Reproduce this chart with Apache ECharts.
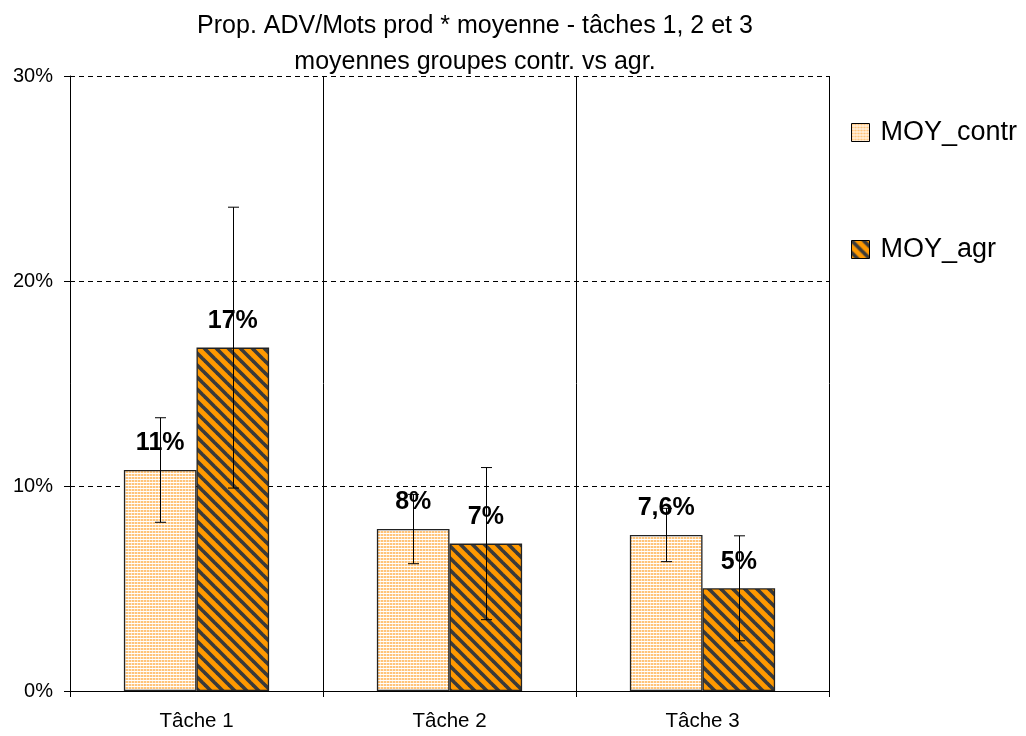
<!DOCTYPE html>
<html><head><meta charset="utf-8">
<script src="https://cdn.jsdelivr.net/npm/echarts@6/dist/echarts.min.js"></script>
<style>html,body{margin:0;padding:0;background:#fff}#c{width:1026px;height:736px}</style>
</head><body><div id="c"></div>
<script>
const categories = ['Tâche 1', 'Tâche 2', 'Tâche 3'];
const seriesNames = ['MOY_contr', 'MOY_agr'];
const contrValues = [10.78, 7.90, 7.61];
const agrValues = [16.75, 7.19, 5.01];
const contrErr = [2.55, 1.69, 1.30];
const agrErr = [6.85, 3.71, 2.56];
const contrLabels = ['11%', '8%', '7,6%'];
const agrLabels = ['17%', '7%', '5%'];
const yTicks = [0, 10, 20, 30];

const FONT = '"Liberation Sans", Arial, sans-serif';
const GAP = 0.426;

function dotPattern() {
  const c = document.createElement('canvas'); c.width = 3; c.height = 3;
  const g = c.getContext('2d');
  g.fillStyle = '#fff'; g.fillRect(0, 0, 3, 3);
  g.fillStyle = '#ffc47a'; g.fillRect(0, 0, 2, 2);
  g.fillStyle = '#ffe7c8'; g.fillRect(2, 0, 1, 2);
  return c;
}
function stripePattern() {
  const s = 12;
  const c = document.createElement('canvas'); c.width = s; c.height = s;
  const g = c.getContext('2d');
  g.fillStyle = '#ff9900'; g.fillRect(0, 0, s, s);
  g.strokeStyle = '#3a3a3a'; g.lineWidth = 3.6;
  for (const o of [-s, 0, s]) {
    g.beginPath(); g.moveTo(o - 2, -2); g.lineTo(o + s + 2, s + 2); g.stroke();
  }
  return c;
}

const chart = echarts.init(document.getElementById('c'), null, {renderer: 'canvas'});

function errSeries(vals, errs, side) {
  return {
    type: 'custom', z: 10, silent: true,
    data: vals.map((v, i) => [i, v - errs[i], v + errs[i]]),
    renderItem: function (params, api) {
      const i = api.value(0);
      const band = api.size([1, 0])[0];
      const bw = band * (1 - GAP) / 2;
      const lo = api.coord([i, api.value(1)]);
      const hi = api.coord([i, api.value(2)]);
      const x = Math.round(lo[0] + side * bw / 2) + 0.5;
      const cap = 5.5;
      const st = {stroke: '#000', lineWidth: 1};
      return {type: 'group', children: [
        {type: 'line', shape: {x1: x, y1: hi[1], x2: x, y2: lo[1]}, style: st},
        {type: 'line', shape: {x1: x - cap, y1: hi[1], x2: x + cap, y2: hi[1]}, style: st},
        {type: 'line', shape: {x1: x - cap, y1: lo[1], x2: x + cap, y2: lo[1]}, style: st}
      ]};
    }
  };
}

const labelStyle = {show: true, position: 'top', distance: 14, fontFamily: FONT, fontWeight: 'bold', fontSize: 25, color: '#000'};

chart.setOption({
  animation: false,
  backgroundColor: '#fff',
  title: {
    text: 'Prop. ADV/Mots prod * moyenne - tâches 1, 2 et 3\nmoyennes groupes contr. vs agr.',
    left: 470, top: 3, textAlign: 'center',
    textStyle: {fontFamily: FONT, fontWeight: 'normal', fontSize: 25, lineHeight: 36, color: '#000'}
  },
  legend: {
    orient: 'vertical', left: 846, top: 114, itemGap: 90,
    itemWidth: 18, itemHeight: 18, icon: 'rect',
    data: seriesNames,
    itemStyle: {borderColor: '#000', borderWidth: 1},
    textStyle: {fontFamily: FONT, fontSize: 27, color: '#000', padding: [0, 0, 0, 6]}
  },
  grid: {left: 70, right: 197, top: 76, bottom: 45, containLabel: false},
  xAxis: {
    type: 'category', data: categories,
    axisLine: {lineStyle: {color: '#000', width: 1}},
    axisTick: {show: true, length: 6, lineStyle: {color: '#000'}},
    splitLine: {show: true, lineStyle: {color: '#000', width: 1, type: 'solid'}},
    axisLabel: {fontFamily: FONT, fontSize: 20.5, color: '#000', margin: 20}
  },
  yAxis: {
    type: 'value', min: yTicks[0], max: yTicks[yTicks.length - 1], interval: 10,
    axisLine: {show: true, lineStyle: {color: '#000', width: 1}},
    axisTick: {show: true, length: 6, lineStyle: {color: '#000'}},
    splitLine: {show: true, lineStyle: {color: '#000', width: 1, type: [5, 4]}},
    axisLabel: {fontFamily: FONT, fontSize: 20, color: '#000', margin: 17, formatter: '{value}%'}
  },
  series: [
    {name: seriesNames[0], type: 'bar', data: contrValues, barGap: '0%', barCategoryGap: (GAP * 100) + '%',
     itemStyle: {color: {image: dotPattern(), repeat: 'repeat'}, borderColor: '#222', borderWidth: 1.3},
     label: Object.assign({}, labelStyle, {formatter: p => contrLabels[p.dataIndex]})},
    {name: seriesNames[1], type: 'bar', data: agrValues, barGap: '0%', barCategoryGap: (GAP * 100) + '%',
     itemStyle: {color: {image: stripePattern(), repeat: 'repeat'}, borderColor: '#222', borderWidth: 1.3},
     label: Object.assign({}, labelStyle, {formatter: p => agrLabels[p.dataIndex]})},
    errSeries(contrValues, contrErr, -1),
    errSeries(agrValues, agrErr, 1)
  ]
});
</script></body></html>
